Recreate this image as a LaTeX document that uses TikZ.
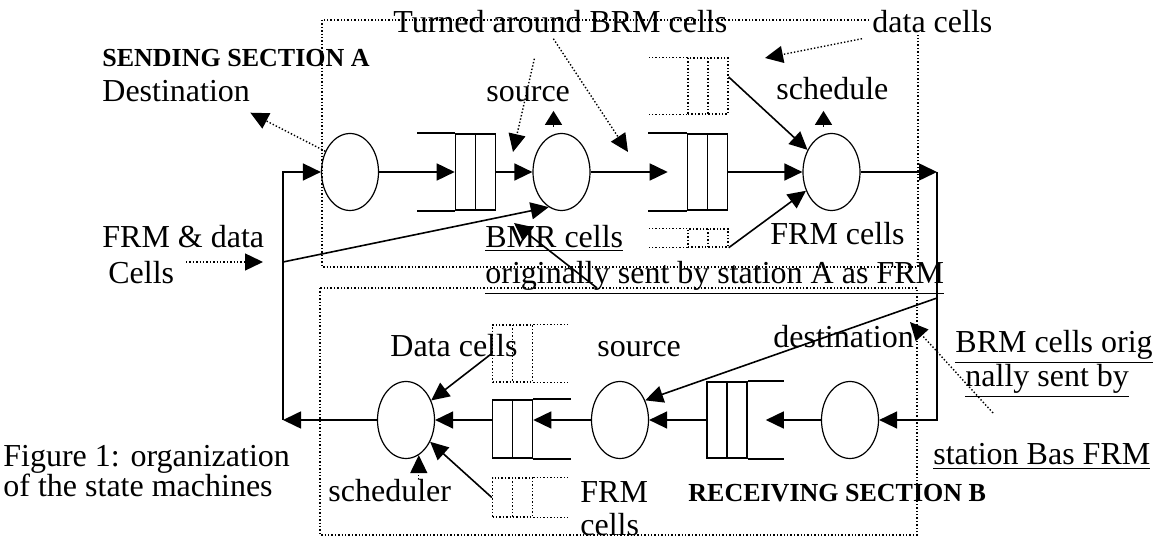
\documentclass[tikz,border=0pt]{standalone}
\usepackage{fontspec}
\setmainfont{Liberation Serif}
\usetikzlibrary{arrows.meta,positioning,shapes.geometric}

\begin{document}
\begin{tikzpicture}[x=0.5pt,y=-0.5pt,font=\fontsize{16}{18}\selectfont,
  machine/.style={draw,ellipse,line width=0.6pt,minimum width=28.5pt,minimum height=38.5pt,inner sep=0pt},
  buffer/.style={draw,line width=0.8pt,minimum width=20pt,minimum height=38pt,inner sep=0pt,
    path picture={\draw[line width=0.8pt] (path picture bounding box.north)--(path picture bounding box.south);}},
  dbuffer/.style={draw,densely dotted,line width=0.7pt,minimum width=20pt,inner sep=0pt,
    path picture={\draw[densely dotted,line width=0.7pt] (path picture bounding box.north)--(path picture bounding box.south);}},
  flow/.style={line width=0.8pt,-{Triangle[length=9pt,width=8.5pt]}},
  hint/.style={densely dotted,line width=0.7pt,-{Triangle[length=9pt,width=8.5pt]}},
  uparr/.style={line width=0.8pt,-{Triangle[length=7pt,width=8.5pt]}},
  lbl/.style={anchor=base west,inner sep=0pt},
  txt/.style={anchor=north west,inner sep=0pt,align=left},
  sect/.style={anchor=base west,inner sep=0pt,font=\fontsize{13}{15}\selectfont\bfseries},
  boxline/.style={densely dotted,line width=0.7pt}]
\useasboundingbox (0,0) rectangle (1158,539);

\draw[boxline] (322,20) rectangle (918,267);
\draw[boxline] (320,288) rectangle (917,535);

\node[machine] (dstA) at (350,172) {};
\node[buffer]  (qA1)  at (475.5,172) {};
\node[machine] (srcA) at (561.5,172) {};
\node[buffer]  (qA2)  at (707.5,172) {};
\node[machine] (schA) at (831.5,172) {};
\node[dbuffer,minimum height=28pt] (dqA1) at (708,86) {};
\node[dbuffer,minimum height=9pt]  (dqA2) at (708,238) {};
\draw[line width=0.8pt] (qA1.north west) -- ++(-38,0) (qA1.south west) -- ++(-38,0);
\draw[line width=0.8pt] (qA2.north west) -- ++(-39,0) (qA2.south west) -- ++(-39,0);
\draw[boxline] (dqA1.north west) -- ++(-40,0) (dqA1.south west) -- ++(-40,0);
\draw[boxline] (dqA2.north west) -- ++(-40,0) (dqA2.south west) -- ++(-40,0);

\node[machine] (dstB) at (850,420) {};
\node[buffer]  (qB1)  at (727,420) {};
\node[machine] (srcB) at (620,420) {};
\node[buffer,minimum height=29pt] (qB2) at (512.5,429) {};
\node[machine] (schB) at (406,420) {};
\node[dbuffer,minimum height=28.5pt] (dqB1) at (512.5,353.5) {};
\node[dbuffer,minimum height=19.5pt] (dqB2) at (512.5,497.5) {};
\draw[line width=0.8pt] (qB1.north east) -- ++(36,0) (qB1.south east) -- ++(36,0);
\draw[line width=0.8pt] (qB2.north east) -- ++(38,0) (qB2.south east) -- ++(38,0);
\draw[boxline] (dqB1.north east) -- ++(35,0) (dqB1.south east) -- ++(35,0);
\draw[boxline] (dqB2.north east) -- ++(35,0) (dqB2.south east) -- ++(35,0);

\node[sect] (secA) at (102,67) {SENDING SECTION A};
\node[lbl] (dstlbl) at (102,102) {Destination};
\node[lbl] (turnlbl) at (393,33) {Turned around BRM cells};
\node[lbl,fill=white,inner sep=1pt] (datalbl) at (870,33) {data cells};
\node[lbl] (srcAlbl) at (486,102) {source};
\node[lbl] (schAlbl) at (776,100) {schedule};
\node[txt] (frmlbl) at (102,225) {FRM \& data\\\hspace*{3pt}Cells};
\node[txt] (bmrlbl) at (485,225) {\underline{BMR cells}\\\underline{originally sent by station A as FRM}};
\node[lbl] (frmAlbl) at (770,245) {FRM cells};
\node[lbl] (datBlbl) at (390,357) {Data cells};
\node[lbl] (srcBlbl) at (597,357) {source};
\node[lbl] (dstBlbl) at (773,348) {destination};
\node[lbl] (brm1) at (955,353) {\underline{BRM cells orig}};
\node[lbl] (brm2) at (965,387) {\underline{nally sent by}};
\node[lbl] (brm3) at (933,465) {\underline{station Bas FRM}};
\node[sect] (secB) at (688,502) {RECEIVING SECTION B};
\node[lbl] (schBlbl) at (328,502) {scheduler};
\node[txt,font=\fontsize{16}{16.5}\selectfont] (frmBlbl) at (580,481) {FRM\\cells};
\node[txt,font=\fontsize{16}{15}\selectfont] (figlbl) at (3,445) {Figure 1: organization\\of the state machines};

\coordinate (lt) at (283,172);
\coordinate (lm) at (283,262);
\coordinate (lb) at (283,420);
\coordinate (rt) at (937,172);
\coordinate (rm) at (937,298);
\coordinate (rb) at (937,420);
\coordinate (turnA) at (513,152);
\coordinate (turnB) at (628,152);
\coordinate (dataTo) at (765,58);
\coordinate (cellsFrom) at (186,262);
\coordinate (bmrFrom) at (597,288);
\coordinate (bmrTo) at (514,223);
\coordinate (brmFrom) at (993,413);
\coordinate (brmTo) at (910,322);

\draw[flow] (lb) -- (lt) -- (dstA);
\draw[flow] (dstA) -- (qA1.west);
\draw[flow] (qA1.east) -- (srcA);
\draw[flow] (srcA) -- ([xshift=-9.5pt]qA2.west);
\draw[flow] (qA2.east) -- (schA);
\draw[flow] (schA) -- (rt);
\draw[flow] (rt) -- (rb) -- (dstB);
\draw[flow] (dstB) -- ([xshift=9pt]qB1.east);
\draw[flow] (qB1.west) -- (srcB);
\draw[flow] (srcB) -- (qB2.east |- srcB);
\draw[flow] (qB2.west |- schB) -- (schB);
\draw[flow] (schB) -- (lb);
\draw[flow] ([yshift=4.5pt]dqA1.east) -- (schA);
\draw[flow] (dqA2.south east) -- (schA);
\draw[flow] (dqB1.west) -- (schB);
\draw[flow] (dqB2.west) -- (schB);
\draw[flow] (lm) -- (srcA.250);
\draw[flow] (rm) -- (srcB.38);
\draw[flow] (bmrFrom) -- (bmrTo);
\draw[uparr] ([shift={(-4pt,3pt)}]srcA.north) -- ++(0,-16);
\draw[uparr] ([shift={(-4pt,3pt)}]schA.north) -- ++(0,-16);

\draw[hint] (schB.290 |- schBlbl.north) -- (schB.290);
\draw[hint] (dstA.140) -- ([yshift=-5pt]dstlbl.south east);
\draw[hint] ([xshift=-13pt,yshift=-12.5pt]turnlbl.south) -- (turnA);
\draw[hint] ([xshift=-3.5pt,yshift=-2.5pt]turnlbl.south) -- (turnB);
\draw[hint] ([xshift=-4pt,yshift=-1.5pt]datalbl.south west) -- (dataTo);
\draw[hint] (cellsFrom) -- ([xshift=-10pt]lm);
\draw[hint] (brmFrom) -- (brmTo);
\end{tikzpicture}
\end{document}
